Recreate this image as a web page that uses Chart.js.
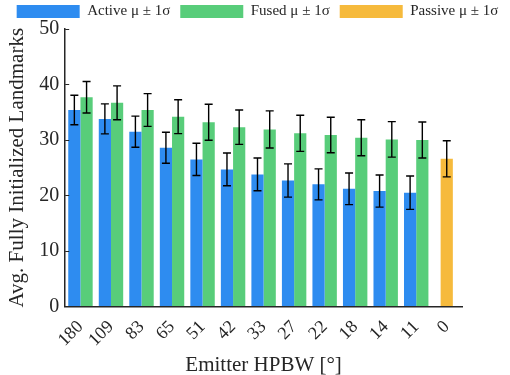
<!DOCTYPE html>
<html>
<head>
<meta charset="utf-8">
<script src="https://cdn.jsdelivr.net/npm/chart.js@4"></script>
<style>
  html, body { margin: 0; padding: 0; background: #fff; }
  #wrap { width: 510px; height: 375px; }
</style>
</head>
<body>
<div id="wrap"><canvas id="myChart" width="510" height="375"></canvas></div>
<script>
var categories = ["180", "109", "83", "65", "51", "42", "33", "27", "22", "18", "14", "11", "0"];
var activeMean = [35.4, 33.8, 31.5, 28.6, 26.5, 24.7, 23.8, 22.7, 22.0, 21.2, 20.8, 20.5, null];
var activeStd = [2.65, 2.7, 2.8, 2.8, 2.9, 2.95, 2.95, 3.0, 2.8, 2.85, 2.9, 3.0, null];
var fusedMean = [37.7, 36.7, 35.4, 34.2, 33.2, 32.3, 31.9, 31.2, 30.9, 30.4, 30.1, 30.0, null];
var fusedStd = [2.85, 3.05, 2.95, 3.05, 3.25, 3.1, 3.35, 3.25, 3.2, 3.25, 3.2, 3.25, null];
var passiveMean = [null, null, null, null, null, null, null, null, null, null, null, null, 26.6];
var passiveStd = [null, null, null, null, null, null, null, null, null, null, null, null, 3.25];
var yTicks = [0, 10, 20, 30, 40, 50];

var axisColor = "#262626";
var serif = "'Liberation Serif', 'DejaVu Serif', serif";

// error bars + inward y ticks (matlab look)
var errorBars = {
  id: "errorBars",
  afterDatasetsDraw: function(chart) {
    var ctx = chart.ctx;
    var y = chart.scales.y;
    ctx.save();
    ctx.strokeStyle = "#000";
    ctx.lineWidth = 1.4;
    chart.data.datasets.forEach(function(ds, di) {
      var meta = chart.getDatasetMeta(di);
      meta.data.forEach(function(bar, i) {
        var m = ds.data[i];
        var s = ds.errors[i];
        if (m == null || s == null) return;
        var top = y.getPixelForValue(m + s);
        var bot = y.getPixelForValue(m - s);
        ctx.beginPath();
        ctx.moveTo(bar.x, top); ctx.lineTo(bar.x, bot);
        ctx.moveTo(bar.x - 4, top); ctx.lineTo(bar.x + 4, top);
        ctx.moveTo(bar.x - 4, bot); ctx.lineTo(bar.x + 4, bot);
        ctx.stroke();
      });
    });
    ctx.strokeStyle = axisColor;
    ctx.lineWidth = 1;
    var left = chart.chartArea.left;
    yTicks.forEach(function(v) {
      var py = Math.round(y.getPixelForValue(v)) + 0.5;
      ctx.beginPath();
      ctx.moveTo(left, py); ctx.lineTo(left + 4, py);
      ctx.stroke();
    });
    ctx.restore();
  }
};

new Chart("myChart", {
  type: "bar",
  data: {
    labels: categories,
    datasets: [
      { label: "Active μ ± 1σ", data: activeMean, errors: activeStd, backgroundColor: "#2e8cf0" },
      { label: "Fused μ ± 1σ", data: fusedMean, errors: fusedStd, backgroundColor: "#58cd7a" },
      { label: "Passive μ ± 1σ", data: passiveMean, errors: passiveStd, backgroundColor: "#f6ba3c",
        grouped: false, barPercentage: 0.5 }
    ]
  },
  options: {
    responsive: false,
    animation: false,
    categoryPercentage: 0.8,
    barPercentage: 1.0,
    layout: { padding: { left: 5, right: 0, top: -6, bottom: -3 } },
    plugins: {
      legend: {
        display: true,
        position: "top",
        labels: {
          boxWidth: 63,
          boxHeight: 13,
          padding: 10,
          color: "#262626",
          font: { family: serif, size: 15 }
        }
      },
      tooltip: { enabled: false }
    },
    scales: {
      x: {
        offset: true,
        grid: { display: false },
        border: { display: true, color: axisColor, width: 1.5 },
        ticks: {
          color: axisColor,
          autoSkip: false,
          minRotation: 45,
          maxRotation: 45,
          padding: 2,
          font: { family: serif, size: 18 }
        },
        title: {
          display: true,
          text: "Emitter HPBW [°]",
          color: axisColor,
          padding: { top: 0, bottom: 0 },
          font: { family: serif, size: 21 }
        }
      },
      y: {
        min: 0,
        max: 50,
        ticks: {
          stepSize: 10,
          color: axisColor,
          padding: 6,
          font: { family: serif, size: 20 }
        },
        grid: { drawOnChartArea: false, drawTicks: false, tickLength: 0 },
        border: { display: true, color: axisColor, width: 1.5 },
        title: {
          display: true,
          text: "Avg. Fully Initialized Landmarks",
          color: axisColor,
          padding: { top: 0, bottom: 3 },
          font: { family: serif, size: 21 }
        }
      },
      // empty right margin like the matlab figure
      yPad: {
        position: "right",
        display: true,
        grid: { display: false },
        border: { display: false },
        ticks: { display: false },
        afterFit: function(scale) { scale.width = 48; }
      }
    }
  },
  plugins: [errorBars]
});
</script>
</body>
</html>
